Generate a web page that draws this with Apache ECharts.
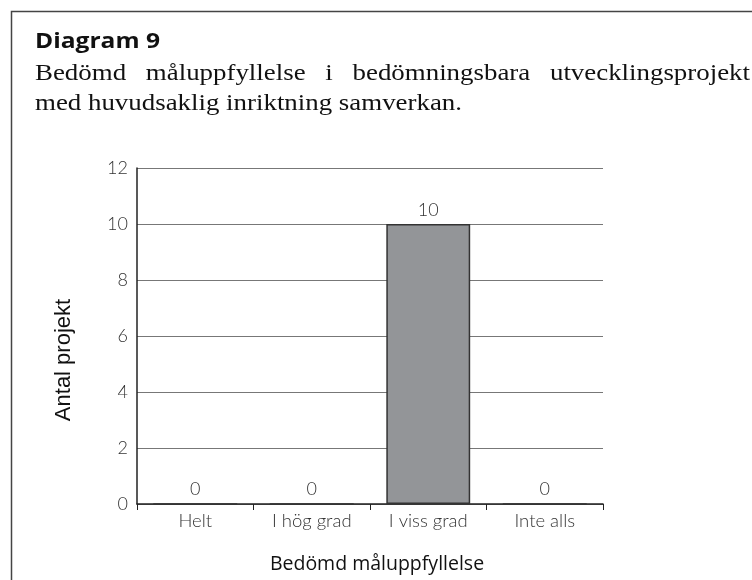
<!DOCTYPE html>
<html>
<head>
<meta charset="utf-8">
<script src="https://cdn.jsdelivr.net/npm/echarts@6/dist/echarts.min.js"></script>
<style>
html, body { margin: 0; padding: 0; background: #fff; }
#chart { width: 752px; height: 580px; }
</style>
</head>
<body>
<div id="chart"></div>
<script>
var categories = ['Helt', 'I hög grad', 'I viss grad', 'Inte alls'];
var values = [0, 0, 10, 0];
var yTicks = [0, 2, 4, 6, 8, 10, 12];

var titleText = 'Diagram 9';
var subLine1 = 'Bedömd måluppfyllelse i bedömningsbara utvecklingsprojekt';
var subLine2 = 'med huvudsaklig inriktning samverkan.';

var chart = echarts.init(document.getElementById('chart'));

var ctx = document.createElement('canvas').getContext('2d');
function textW(str, font) { ctx.font = font; return ctx.measureText(str).width; }

// rubriken: lite bredare typsnitt i originalet, skalas i x-led
var titleFont = 'bold 22px "Open Sans", sans-serif';
var titleScale = 125 / textW(titleText, titleFont);

var subFont = '23px "Liberation Serif", serif';
var subScale = 427 / textW(subLine2, subFont);

// första raden är marginaljusterad, ord för ord
var words = subLine1.split(' ');
var wordsW = 0;
for (var i = 0; i < words.length; i++) wordsW += textW(words[i], subFont) * subScale;
var gap = (750 - 35 - wordsW) / (words.length - 1);
var justified = [];
var xPos = 35;
for (var i = 0; i < words.length; i++) {
    justified.push({ type: 'text', x: xPos, y: 62, scaleX: subScale,
        style: { text: words[i], font: subFont, fill: '#111', verticalAlign: 'top' } });
    xPos += textW(words[i], subFont) * subScale + gap;
}

var option = {
    animation: false,
    backgroundColor: '#fff',
    graphic: [
        // ram
        { type: 'polyline', shape: { points: [[11.5, 580], [11.5, 11.5], [752, 11.5]] },
          style: { stroke: '#444', lineWidth: 1.5, fill: null } },
        { type: 'text', x: 35, y: 31, scaleX: titleScale,
          style: { text: titleText, font: titleFont, fill: '#111', verticalAlign: 'top' } },
        { type: 'text', x: 35, y: 92, scaleX: subScale,
          style: { text: subLine2, font: subFont, fill: '#111', verticalAlign: 'top' } },
        { type: 'text', x: 64, y: 360, rotation: Math.PI / 2,
          style: { text: 'Antal projekt', font: '22px "Liberation Sans", sans-serif', fill: '#111',
                   align: 'center', verticalAlign: 'middle' } }
    ].concat(justified),
    grid: { left: 137, right: 149, top: 168, bottom: 76 },
    xAxis: {
        type: 'category',
        data: categories,
        name: 'Bedömd måluppfyllelse',
        nameLocation: 'middle',
        nameGap: 50,
        nameTextStyle: { fontSize: 19.5, color: '#111', fontFamily: 'Open Sans', padding: [0, 0, 0, 14] },
        axisLine: { lineStyle: { color: '#222', width: 1.5 } },
        axisTick: { show: true, length: 6, lineStyle: { color: '#222' } },
        axisLabel: { fontSize: 18.5, color: '#333', margin: 8, fontFamily: 'Lato', fontWeight: 300 }
    },
    yAxis: {
        type: 'value',
        min: yTicks[0],
        max: yTicks[yTicks.length - 1],
        interval: 2,
        axisLine: { show: true, lineStyle: { color: '#222', width: 1.5 } },
        axisTick: { show: false },
        axisLabel: { fontSize: 18, color: '#333', margin: 9, fontFamily: 'Lato', fontWeight: 300 },
        splitLine: { lineStyle: { color: '#777', width: 1 } }
    },
    series: [{
        type: 'bar',
        data: values,
        barWidth: '72%',
        itemStyle: { color: '#939598', borderColor: '#333', borderWidth: 1.5 },
        label: {
            show: true,
            position: 'top',
            distance: 5,
            fontSize: 18,
            color: '#333',
            fontFamily: 'Lato',
            fontWeight: 300
        }
    }]
};
chart.setOption(option);
</script>
</body>
</html>
